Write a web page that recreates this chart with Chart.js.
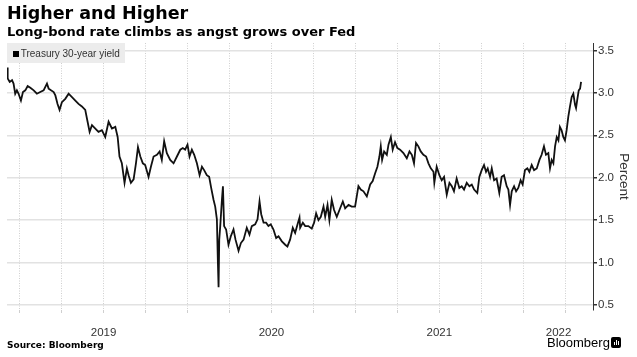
<!DOCTYPE html>
<html>
<head>
<meta charset="utf-8">
<script src="https://cdn.jsdelivr.net/npm/chart.js@4/dist/chart.umd.min.js"></script>
<style>
  html, body { margin: 0; padding: 0; background: #fff; }
  #wrap { position: relative; width: 637px; height: 357px; overflow: hidden; }
  canvas { position: absolute; left: 0; top: 0; }
  .txt { position: absolute; white-space: nowrap; color: #000; }
  #title { left: 7px; top: 4.5px; font: bold 17.5px/17.5px "DejaVu Sans", sans-serif; }
  #subtitle { left: 7px; top: 25px; font: bold 13px/13px "DejaVu Sans", sans-serif; }
  #legend { position: absolute; left: 7px; top: 43px; width: 118px; height: 20px; background: #ececec; }
  #legsq { position: absolute; left: 5.5px; top: 8px; width: 6px; height: 6px; background: #000; }
  #legtxt { position: absolute; left: 13.7px; top: 5.8px; font: 10px/10px "Liberation Sans", sans-serif; color: #333; white-space: nowrap; }
  #source { left: 7px; top: 341px; font: bold 9px/9px "DejaVu Sans", sans-serif; }
  #brand { left: 547px; top: 336px; font: 13px/13px "Liberation Sans", sans-serif; }
  #icon { position: absolute; left: 611px; top: 337px; width: 10px; height: 11px; background: #000; border-radius: 2px; }
  #icon span { position: absolute; bottom: 3px; width: 1.5px; background: #fff; }
</style>
</head>
<body>
<div id="wrap">
  <canvas id="c" width="637" height="357"></canvas>
  <div class="txt" id="title">Higher and Higher</div>
  <div class="txt" id="subtitle">Long-bond rate climbs as angst grows over Fed</div>
  <div id="legend"><div id="legsq"></div><div id="legtxt">Treasury 30-year yield</div></div>
  <div class="txt" id="source">Source: Bloomberg</div>
  <div class="txt" id="brand">Bloomberg</div>
  <div id="icon"><span style="left:2.5px;height:3px"></span><span style="left:4.5px;height:5px"></span><span style="left:6.5px;height:4px"></span></div>
</div>
<script>
// Time in decimal years
const dates = [
  2018.925, 2018.929, 2018.941, 2018.955, 2018.964, 2018.974, 2018.984, 2018.994,
  2019.008, 2019.020, 2019.034, 2019.048, 2019.064, 2019.084, 2019.103, 2019.123,
  2019.143, 2019.163, 2019.173, 2019.187, 2019.203, 2019.213, 2019.226, 2019.238,
  2019.252, 2019.272, 2019.292, 2019.312, 2019.332, 2019.351, 2019.371, 2019.391,
  2019.405, 2019.417, 2019.431, 2019.451, 2019.470, 2019.490, 2019.510, 2019.530,
  2019.550, 2019.570, 2019.584, 2019.595, 2019.609, 2019.625, 2019.639, 2019.649,
  2019.663, 2019.679, 2019.693, 2019.705, 2019.719, 2019.734, 2019.748, 2019.768,
  2019.782, 2019.798, 2019.818, 2019.834, 2019.847, 2019.861, 2019.877, 2019.897,
  2019.917, 2019.937, 2019.957, 2019.972, 2019.986, 2020.000, 2020.012, 2020.026,
  2020.040, 2020.056, 2020.072, 2020.086, 2020.099, 2020.115, 2020.129, 2020.141,
  2020.155, 2020.165, 2020.175, 2020.181, 2020.185, 2020.189, 2020.195, 2020.205,
  2020.211, 2020.218, 2020.230, 2020.244, 2020.258, 2020.274, 2020.286, 2020.304,
  2020.318, 2020.334, 2020.353, 2020.369, 2020.383, 2020.403, 2020.417, 2020.429,
  2020.439, 2020.453, 2020.468, 2020.482, 2020.496, 2020.512, 2020.528, 2020.542,
  2020.562, 2020.582, 2020.595, 2020.611, 2020.627, 2020.641, 2020.655, 2020.667,
  2020.671, 2020.687, 2020.701, 2020.720, 2020.740, 2020.754, 2020.766, 2020.780,
  2020.794, 2020.810, 2020.820, 2020.834, 2020.845, 2020.859, 2020.873, 2020.889,
  2020.905, 2020.925, 2020.939, 2020.959, 2020.978, 2020.998, 2021.008, 2021.018,
  2021.032, 2021.048, 2021.068, 2021.088, 2021.103, 2021.117, 2021.131, 2021.143,
  2021.151, 2021.159, 2021.171, 2021.187, 2021.197, 2021.211, 2021.222, 2021.236,
  2021.250, 2021.266, 2021.286, 2021.306, 2021.322, 2021.336, 2021.349, 2021.361,
  2021.375, 2021.389, 2021.405, 2021.421, 2021.435, 2021.449, 2021.465, 2021.470,
  2021.484, 2021.500, 2021.514, 2021.528, 2021.544, 2021.560, 2021.574, 2021.587,
  2021.603, 2021.619, 2021.633, 2021.647, 2021.663, 2021.679, 2021.693, 2021.707,
  2021.726, 2021.738, 2021.752, 2021.766, 2021.778, 2021.788, 2021.802, 2021.812,
  2021.826, 2021.841, 2021.857, 2021.871, 2021.885, 2021.901, 2021.911, 2021.921,
  2021.931, 2021.945, 2021.957, 2021.970, 2021.984, 2021.996, 2022.010, 2022.024,
  2022.036, 2022.050, 2022.064, 2022.080, 2022.096, 2022.109, 2022.123, 2022.135,
  2022.149, 2022.159, 2022.169, 2022.179, 2022.189, 2022.199, 2022.209, 2022.218,
  2022.228, 2022.238, 2022.248, 2022.258, 2022.268, 2022.278, 2022.288, 2022.298,
  2022.308, 2022.314, 2022.322, 2022.330, 2022.338, 2022.344
];
// Treasury 30-year yield, percent
const yields = [
  3.30, 3.17, 3.13, 3.15, 3.11, 2.99, 3.03, 2.99,
  2.91, 3.01, 3.03, 3.08, 3.06, 3.03, 2.99, 3.01,
  3.03, 3.11, 3.05, 3.03, 3.01, 2.97, 2.87, 2.80,
  2.89, 2.93, 2.99, 2.95, 2.91, 2.87, 2.84, 2.80,
  2.66, 2.54, 2.62, 2.58, 2.54, 2.56, 2.48, 2.66,
  2.58, 2.60, 2.48, 2.25, 2.17, 1.94, 2.11, 2.03,
  1.94, 1.98, 2.17, 2.36, 2.25, 2.17, 2.15, 2.01,
  2.13, 2.25, 2.27, 2.31, 2.21, 2.43, 2.29, 2.21,
  2.17, 2.25, 2.33, 2.35, 2.33, 2.39, 2.25, 2.33,
  2.27, 2.17, 2.03, 2.13, 2.09, 2.03, 2.01, 1.88,
  1.74, 1.66, 1.51, 1.00, 0.71, 1.27, 1.43, 1.74,
  1.90, 1.43, 1.39, 1.21, 1.31, 1.39, 1.27, 1.14,
  1.23, 1.27, 1.41, 1.33, 1.43, 1.45, 1.51, 1.72,
  1.57, 1.47, 1.47, 1.43, 1.45, 1.39, 1.29, 1.31,
  1.25, 1.21, 1.19, 1.27, 1.41, 1.35, 1.45, 1.53,
  1.41, 1.47, 1.43, 1.43, 1.40, 1.47, 1.58, 1.50,
  1.54, 1.66, 1.54, 1.68, 1.50, 1.74, 1.62, 1.54,
  1.62, 1.72, 1.64, 1.68, 1.66, 1.66, 1.78, 1.90,
  1.86, 1.84, 1.78, 1.92, 1.96, 2.05, 2.13, 2.25,
  2.37, 2.21, 2.31, 2.27, 2.39, 2.48, 2.33, 2.42,
  2.35, 2.33, 2.29, 2.23, 2.31, 2.27, 2.17, 2.41,
  2.37, 2.31, 2.27, 2.25, 2.17, 2.11, 2.07, 1.94,
  2.13, 2.03, 1.97, 2.01, 1.80, 1.94, 1.90, 1.84,
  1.99, 1.88, 1.90, 1.86, 1.94, 1.90, 1.92, 1.86,
  1.82, 2.01, 2.09, 2.15, 2.07, 2.11, 2.01, 2.11,
  1.97, 1.99, 1.82, 2.01, 2.03, 1.90, 1.86, 1.68,
  1.84, 1.90, 1.84, 1.88, 1.97, 1.92, 2.09, 2.11,
  2.07, 2.15, 2.09, 2.11, 2.21, 2.27, 2.37, 2.27,
  2.29, 2.11, 2.21, 2.17, 2.37, 2.48, 2.44, 2.60,
  2.56, 2.48, 2.44, 2.56, 2.72, 2.84, 2.95, 2.99,
  2.86, 2.82, 2.93, 3.03, 3.05, 3.13
];
// Axis ticks
const yTicks = [0.5, 1.0, 1.5, 2.0, 2.5, 3.0, 3.5];
const quarterLines = [2019.0, 2019.25, 2019.5, 2019.75, 2020.0, 2020.25, 2020.5, 2020.75,
                      2021.0, 2021.25, 2021.5, 2021.75, 2022.0, 2022.25];
const yearLabels = ['2019', '2020', '2021', '2022'];
const yearLabelPos = [2019.5, 2020.5, 2021.5, 2022.21];

const X_MIN = 2018.925, X_MAX = 2022.415;
const Y_MIN = 0.441, Y_MAX = 3.588;

const points = dates.map((d, i) => ({ x: d, y: yields[i] }));
const allTicks = Array.from(new Set([...quarterLines, ...yearLabelPos])).sort((a, b) => a - b);
const near = (a, b) => Math.abs(a - b) < 1e-6;

new Chart(document.getElementById('c'), {
  type: 'line',
  data: {
    datasets: [{
      label: 'Treasury 30-year yield',
      data: points,
      borderColor: '#111',
      borderWidth: 1.8,
      pointRadius: 0,
      tension: 0,
      fill: false
    }]
  },
  options: {
    responsive: false,
    animation: false,
    devicePixelRatio: 1,
    layout: { padding: { left: 7, top: 43, right: 0, bottom: 0 } },
    plugins: { legend: { display: false }, tooltip: { enabled: false }, title: { display: false } },
    scales: {
      x: {
        type: 'linear',
        min: X_MIN,
        max: X_MAX,
        afterBuildTicks: (s) => { s.ticks = allTicks.map(v => ({ value: v })); },
        afterFit: (s) => { s.height = 47; },
        grid: {
          color: (ctx) => (ctx.tick && quarterLines.some(q => near(q, ctx.tick.value))) ? '#cfcfcf' : 'rgba(0,0,0,0)',
          tickColor: (ctx) => (ctx.tick && quarterLines.some(q => near(q, ctx.tick.value))) ? '#cfcfcf' : 'rgba(0,0,0,0)',
          lineWidth: 1,
          drawTicks: true,
          tickLength: 3
        },
        border: { display: false, dash: [1, 1.5] },
        ticks: {
          autoSkip: false,
          maxRotation: 0,
          minRotation: 0,
          padding: 13,
          color: '#333',
          font: { family: 'Liberation Sans', size: 11.5 },
          callback: (v) => {
            const i = yearLabelPos.findIndex(p => near(p, v));
            return i >= 0 ? yearLabels[i] : '';
          }
        }
      },
      y: {
        type: 'linear',
        position: 'right',
        min: Y_MIN,
        max: Y_MAX,
        afterBuildTicks: (s) => { s.ticks = yTicks.map(v => ({ value: v })); },
        afterFit: (s) => { s.width = 44; },
        grid: {
          color: '#e2e2e2',
          lineWidth: 1.5,
          tickColor: '#333',
          tickLength: 4,
          drawTicks: true
        },
        border: { display: true, color: '#333', width: 1 },
        ticks: {
          padding: 1,
          color: '#333',
          font: { family: 'Liberation Sans', size: 11.5 },
          callback: (v) => Number(v).toFixed(1)
        },
        title: {
          display: true,
          text: 'Percent',
          color: '#333',
          font: { family: 'Liberation Sans', size: 13.5 },
          padding: { top: 5, bottom: 5 }
        }
      }
    }
  }
});
</script>
</body>
</html>
